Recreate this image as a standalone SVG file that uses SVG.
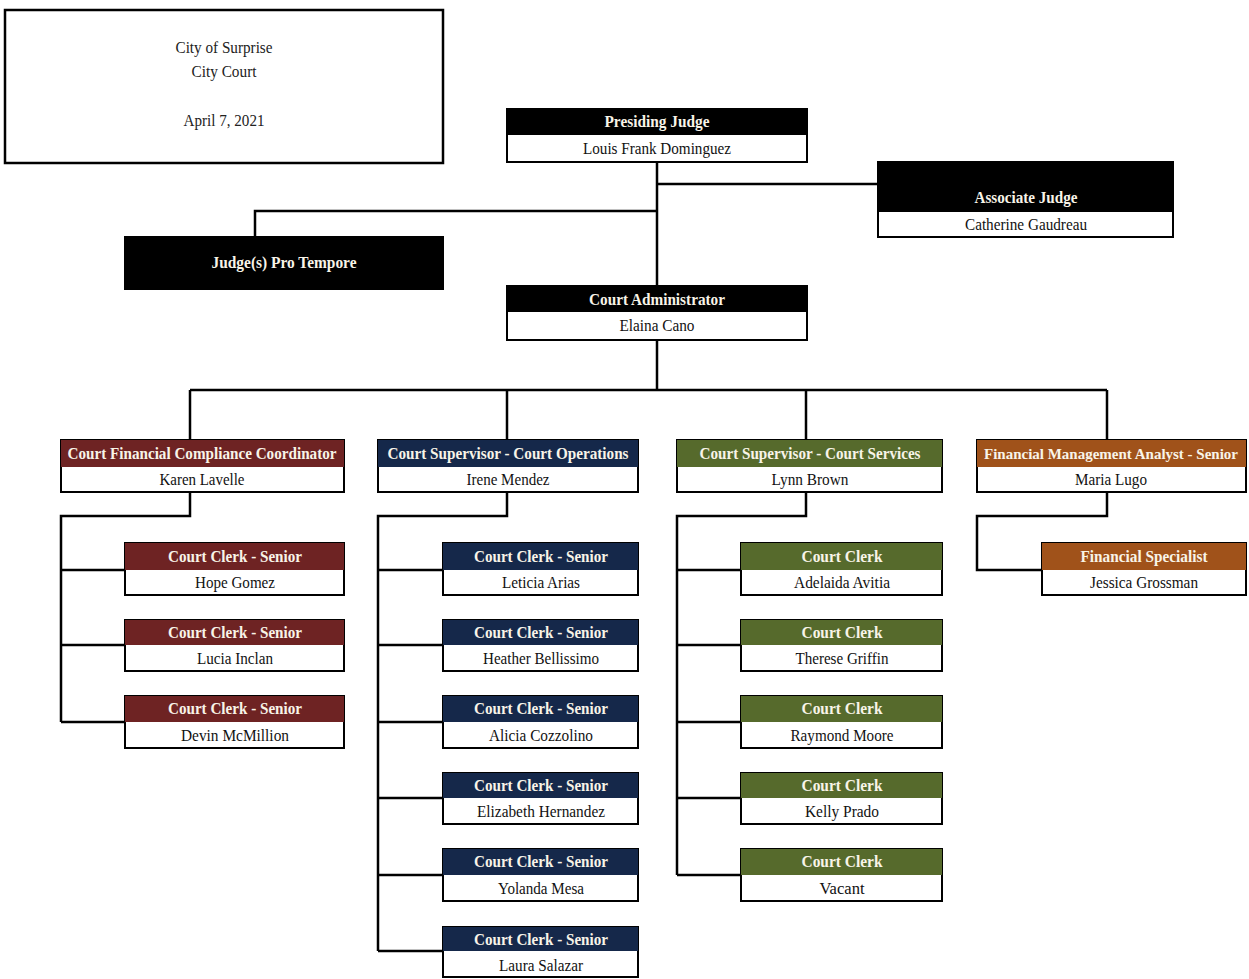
<svg xmlns="http://www.w3.org/2000/svg" width="1249" height="979" viewBox="0 0 1249 979">
<style>
.box{fill:#fff;stroke:#000;stroke-width:2}
.blk{fill:#000}
.red{fill:#6e2323}
.navy{fill:#15284a}
.olive{fill:#566a2c}
.orange{fill:#a0521a}
.h{font-family:"Liberation Serif",serif;font-weight:bold;font-size:16px;fill:#f8f4e8;text-anchor:middle}
.n{font-family:"Liberation Serif",serif;font-size:16px;fill:#111;text-anchor:middle}
.t{font-family:"Liberation Serif",serif;font-size:17px;fill:#222;text-anchor:middle}
.c{fill:none;stroke:#000;stroke-width:2.5}
</style>
<rect width="1249" height="979" fill="#fff"/>
<g id="connectors">
<path class="c" d="M657 162V286M657 340V390M657 184H878M657 211H255V237"/>
<path class="c" d="M190 390H1107M190 390V440M507 390V440M806 390V440M1107 390V440"/>
<path class="c" d="M190 492V516H61V722M61 570H125M61 645H125M61 722H125"/>
<path class="c" d="M507 492V516H378V951M378 570H443M378 645H443M378 722H443M378 798H443M378 875H443M378 951H443"/>
<path class="c" d="M806 492V516H677V875M677 570H741M677 645H741M677 722H741M677 798H741M677 875H741"/>
<path class="c" d="M1107 492V516H977V570H1042"/>
</g>
<g id="title">
<rect x="5" y="10" width="438" height="153" fill="#fff" stroke="#000" stroke-width="2.5"/>
<text class="t" x="224" y="53" textLength="97" lengthAdjust="spacingAndGlyphs">City of Surprise</text>
<text class="t" x="224" y="77" textLength="65" lengthAdjust="spacingAndGlyphs">City Court</text>
<text class="t" x="224" y="126" textLength="81" lengthAdjust="spacingAndGlyphs">April 7, 2021</text>
</g>
<g id="presiding-judge">
<rect class="box" x="507" y="109" width="300" height="53"/>
<rect class="blk" x="507" y="109" width="300" height="26"/>
<text class="h" x="657" y="127" textLength="105" lengthAdjust="spacingAndGlyphs">Presiding Judge</text>
<text class="n" x="657" y="154" textLength="148" lengthAdjust="spacingAndGlyphs">Louis Frank Dominguez</text>
</g>
<g id="associate-judge">
<rect class="box" x="878" y="162" width="295" height="75"/>
<rect class="blk" x="878" y="162" width="295" height="50"/>
<text class="h" x="1026" y="203" textLength="103" lengthAdjust="spacingAndGlyphs">Associate Judge</text>
<text class="n" x="1026" y="230" textLength="122" lengthAdjust="spacingAndGlyphs">Catherine Gaudreau</text>
</g>
<g id="pro-tempore">
<rect class="blk" x="125" y="237" width="318" height="52" stroke="#000" stroke-width="2"/>
<text class="h" x="284" y="268" textLength="145" lengthAdjust="spacingAndGlyphs">Judge(s) Pro Tempore</text>
</g>
<g id="court-administrator">
<rect class="box" x="507" y="286" width="300" height="54"/>
<rect class="blk" x="507" y="286" width="300" height="26"/>
<text class="h" x="657" y="305" textLength="136" lengthAdjust="spacingAndGlyphs">Court Administrator</text>
<text class="n" x="657" y="331" textLength="75" lengthAdjust="spacingAndGlyphs">Elaina Cano</text>
</g>
<g id="fin-compliance">
<rect class="box" x="61" y="440" width="283" height="52"/>
<rect class="red" x="61" y="440" width="283" height="27"/>
<text class="h" x="202" y="459" textLength="269" lengthAdjust="spacingAndGlyphs">Court Financial Compliance Coordinator</text>
<text class="n" x="202" y="485" textLength="85" lengthAdjust="spacingAndGlyphs">Karen Lavelle</text>
</g>
<g id="supervisor-operations">
<rect class="box" x="378" y="440" width="260" height="52"/>
<rect class="navy" x="378" y="440" width="260" height="27"/>
<text class="h" x="508" y="459" textLength="241" lengthAdjust="spacingAndGlyphs">Court Supervisor - Court Operations</text>
<text class="n" x="508" y="485" textLength="83" lengthAdjust="spacingAndGlyphs">Irene Mendez</text>
</g>
<g id="supervisor-services">
<rect class="box" x="677" y="440" width="265" height="52"/>
<rect class="olive" x="677" y="440" width="265" height="27"/>
<text class="h" x="810" y="459" textLength="221" lengthAdjust="spacingAndGlyphs">Court Supervisor - Court Services</text>
<text class="n" x="810" y="485" textLength="77" lengthAdjust="spacingAndGlyphs">Lynn Brown</text>
</g>
<g id="fin-analyst">
<rect class="box" x="977" y="440" width="269" height="52"/>
<rect class="orange" x="977" y="440" width="269" height="27"/>
<text class="h" x="1111" y="459" style="font-size:14.5px" textLength="254" lengthAdjust="spacingAndGlyphs">Financial Management Analyst - Senior</text>
<text class="n" x="1111" y="485" textLength="72" lengthAdjust="spacingAndGlyphs">Maria Lugo</text>
</g>
<g id="hope-gomez">
<rect class="box" x="125" y="543" width="219" height="52"/>
<rect class="red" x="125" y="543" width="219" height="27"/>
<text class="h" x="235" y="562" textLength="134" lengthAdjust="spacingAndGlyphs">Court Clerk - Senior</text>
<text class="n" x="235" y="588" textLength="80" lengthAdjust="spacingAndGlyphs">Hope Gomez</text>
</g>
<g id="lucia-inclan">
<rect class="box" x="125" y="620" width="219" height="51"/>
<rect class="red" x="125" y="620" width="219" height="25"/>
<text class="h" x="235" y="638" textLength="134" lengthAdjust="spacingAndGlyphs">Court Clerk - Senior</text>
<text class="n" x="235" y="664" textLength="76" lengthAdjust="spacingAndGlyphs">Lucia Inclan</text>
</g>
<g id="devin-mcmillion">
<rect class="box" x="125" y="696" width="219" height="52"/>
<rect class="red" x="125" y="696" width="219" height="26"/>
<text class="h" x="235" y="714" textLength="134" lengthAdjust="spacingAndGlyphs">Court Clerk - Senior</text>
<text class="n" x="235" y="741" textLength="108" lengthAdjust="spacingAndGlyphs">Devin McMillion</text>
</g>
<g id="leticia-arias">
<rect class="box" x="443" y="543" width="195" height="52"/>
<rect class="navy" x="443" y="543" width="195" height="27"/>
<text class="h" x="541" y="562" textLength="134" lengthAdjust="spacingAndGlyphs">Court Clerk - Senior</text>
<text class="n" x="541" y="588" textLength="78" lengthAdjust="spacingAndGlyphs">Leticia Arias</text>
</g>
<g id="heather-bellissimo">
<rect class="box" x="443" y="620" width="195" height="51"/>
<rect class="navy" x="443" y="620" width="195" height="25"/>
<text class="h" x="541" y="638" textLength="134" lengthAdjust="spacingAndGlyphs">Court Clerk - Senior</text>
<text class="n" x="541" y="664" textLength="116" lengthAdjust="spacingAndGlyphs">Heather Bellissimo</text>
</g>
<g id="alicia-cozzolino">
<rect class="box" x="443" y="696" width="195" height="52"/>
<rect class="navy" x="443" y="696" width="195" height="26"/>
<text class="h" x="541" y="714" textLength="134" lengthAdjust="spacingAndGlyphs">Court Clerk - Senior</text>
<text class="n" x="541" y="741" textLength="104" lengthAdjust="spacingAndGlyphs">Alicia Cozzolino</text>
</g>
<g id="elizabeth-hernandez">
<rect class="box" x="443" y="773" width="195" height="51"/>
<rect class="navy" x="443" y="773" width="195" height="25"/>
<text class="h" x="541" y="791" textLength="134" lengthAdjust="spacingAndGlyphs">Court Clerk - Senior</text>
<text class="n" x="541" y="817" textLength="128" lengthAdjust="spacingAndGlyphs">Elizabeth Hernandez</text>
</g>
<g id="yolanda-mesa">
<rect class="box" x="443" y="849" width="195" height="52"/>
<rect class="navy" x="443" y="849" width="195" height="26"/>
<text class="h" x="541" y="867" textLength="134" lengthAdjust="spacingAndGlyphs">Court Clerk - Senior</text>
<text class="n" x="541" y="894" textLength="86" lengthAdjust="spacingAndGlyphs">Yolanda Mesa</text>
</g>
<g id="laura-salazar">
<rect class="box" x="443" y="927" width="195" height="50"/>
<rect class="navy" x="443" y="927" width="195" height="24"/>
<text class="h" x="541" y="945" textLength="134" lengthAdjust="spacingAndGlyphs">Court Clerk - Senior</text>
<text class="n" x="541" y="971" textLength="84" lengthAdjust="spacingAndGlyphs">Laura Salazar</text>
</g>
<g id="adelaida-avitia">
<rect class="box" x="741" y="543" width="201" height="52"/>
<rect class="olive" x="741" y="543" width="201" height="27"/>
<text class="h" x="842" y="562" textLength="81" lengthAdjust="spacingAndGlyphs">Court Clerk</text>
<text class="n" x="842" y="588" textLength="96" lengthAdjust="spacingAndGlyphs">Adelaida Avitia</text>
</g>
<g id="therese-griffin">
<rect class="box" x="741" y="620" width="201" height="51"/>
<rect class="olive" x="741" y="620" width="201" height="25"/>
<text class="h" x="842" y="638" textLength="81" lengthAdjust="spacingAndGlyphs">Court Clerk</text>
<text class="n" x="842" y="664" textLength="93" lengthAdjust="spacingAndGlyphs">Therese Griffin</text>
</g>
<g id="raymond-moore">
<rect class="box" x="741" y="696" width="201" height="52"/>
<rect class="olive" x="741" y="696" width="201" height="26"/>
<text class="h" x="842" y="714" textLength="81" lengthAdjust="spacingAndGlyphs">Court Clerk</text>
<text class="n" x="842" y="741" textLength="103" lengthAdjust="spacingAndGlyphs">Raymond Moore</text>
</g>
<g id="kelly-prado">
<rect class="box" x="741" y="773" width="201" height="51"/>
<rect class="olive" x="741" y="773" width="201" height="25"/>
<text class="h" x="842" y="791" textLength="81" lengthAdjust="spacingAndGlyphs">Court Clerk</text>
<text class="n" x="842" y="817" textLength="74" lengthAdjust="spacingAndGlyphs">Kelly Prado</text>
</g>
<g id="vacant">
<rect class="box" x="741" y="849" width="201" height="52"/>
<rect class="olive" x="741" y="849" width="201" height="26"/>
<text class="h" x="842" y="867" textLength="81" lengthAdjust="spacingAndGlyphs">Court Clerk</text>
<text class="n" x="842" y="894" textLength="45" lengthAdjust="spacingAndGlyphs">Vacant</text>
</g>
<g id="jessica-grossman">
<rect class="box" x="1042" y="543" width="204" height="52"/>
<rect class="orange" x="1042" y="543" width="204" height="27"/>
<text class="h" x="1144" y="562" textLength="127" lengthAdjust="spacingAndGlyphs">Financial Specialist</text>
<text class="n" x="1144" y="588" textLength="108" lengthAdjust="spacingAndGlyphs">Jessica Grossman</text>
</g>
</svg>
